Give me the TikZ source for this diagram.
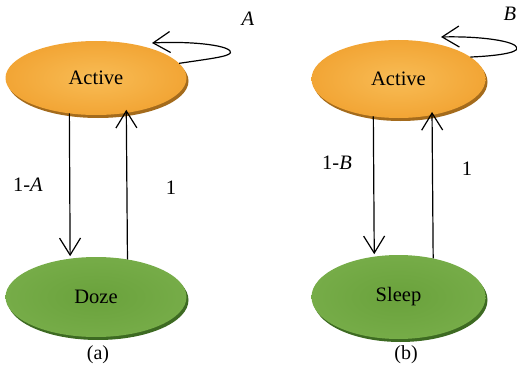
\documentclass[tikz,border=0pt]{standalone}
\usepackage{fontspec}
\setmainfont{Liberation Serif}
\usetikzlibrary{shapes.geometric,arrows.meta,shadows}
\definecolor{orIn}{HTML}{F8BC55}
\definecolor{orOut}{HTML}{F2A535}
\definecolor{orSh}{HTML}{A46B1C}
\definecolor{grIn}{HTML}{6AA23C}
\definecolor{grOut}{HTML}{76AC48}
\definecolor{grSh}{HTML}{3D6A22}
\tikzset{
  state/.style={ellipse, inner sep=0pt, outer sep=0pt, font=\fontsize{20.5}{22}\selectfont},
  orangestate/.style={state, inner color=orIn, outer color=orOut,
     general shadow={fill=orSh, shadow xshift=2pt, shadow yshift=-3pt}},
  greenstate/.style={state, inner color=grIn, outer color=grOut,
     general shadow={fill=grSh, shadow xshift=2pt, shadow yshift=-3pt}},
  arr/.style={line width=1.2pt, -{Straight Barb[length=17pt,width=21pt,line width=1.2pt]}},
  lbl/.style={font=\fontsize{20.5}{22}\selectfont, inner sep=0pt},
  captext/.style={font=\fontsize{20}{22}\selectfont, inner sep=0pt}
}
\begin{document}
\begin{tikzpicture}[x=1pt,y=-1pt]
\useasboundingbox (0,0) rectangle (517,369);
% left diagram
\node[orangestate, minimum width=181pt, minimum height=74pt] (act1) at (96,78) {Active};
\node[greenstate, minimum width=181pt, minimum height=80pt] (doze) at (96,297) {Doze};
\draw[arr, shorten >=2.5pt] (act1.233.7) -- (doze.124.2);
\draw[arr, shorten >=-3pt] (doze.50.5) -- (act1.311.7);
\coordinate (tip1) at (152,43);
\draw[arr] (act1.10.5) .. controls (215,58) and (234,56) .. (230,51)
  .. controls (226,45) and (190,41) .. (tip1);
\node[lbl] (la) at (28,185) {1-\textit{A}};
\node[lbl] (l1a) at (171,188) {1};
\node[lbl] (A) at (248,19) {\textit{A}};
\node[captext] (capa) at (98,355) {(a)};
% right diagram
\node[orangestate, minimum width=174pt, minimum height=78pt] (act2) at (398.5,79) {Active};
\node[greenstate, minimum width=174pt, minimum height=84pt] (sleep) at (398.5,297) {Sleep};
\draw[arr, shorten >=2.5pt] (act2.236.8) -- (sleep.121.3);
\draw[arr, shorten >=-3pt] (sleep.48.2) -- (act2.313.9);
\coordinate (tip2) at (441,37);
\draw[arr] (act2.17) .. controls (495,56) and (518,53) .. (517,48)
  .. controls (516,41) and (480,36) .. (tip2);
\node[lbl] (lb) at (337,163) {1-\textit{B}};
\node[lbl] (l1b) at (467,169) {1};
\node[lbl] (B) at (510,14) {\textit{B}};
\node[captext] (capb) at (406,355) {(b)};
\end{tikzpicture}
\end{document}
